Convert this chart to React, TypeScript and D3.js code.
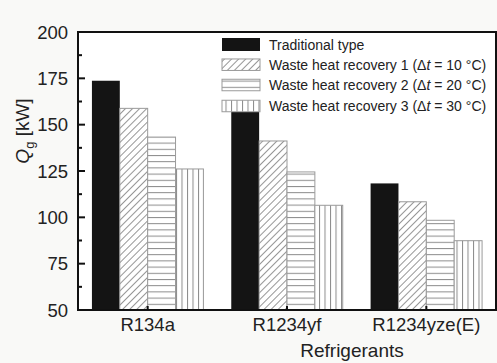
import React from "react";
import * as d3 from "d3";

const categories = ["R134a", "R1234yf", "R1234yze(E)"];
const seriesNames = [
  "Traditional type",
  "Waste heat recovery 1",
  "Waste heat recovery 2",
  "Waste heat recovery 3",
];
const deltaT = ["", "10", "20", "30"];
const traditional = [173.7, 157.0, 118.3];
const recovery1 = [158.8, 141.2, 108.4];
const recovery2 = [143.3, 124.5, 98.4];
const recovery3 = [126.1, 106.5, 87.4];
const yTicks = [50, 75, 100, 125, 150, 175, 200];
const yMinorTicks = [62.5, 87.5, 112.5, 137.5, 162.5, 187.5];

const W = 497;
const H = 363;
const M = { left: 78, right: 496, top: 32, bottom: 310 };
const FONT = "'Liberation Sans', Arial, sans-serif";
const fills = ["#141414", "url(#diag)", "url(#horiz)", "url(#vert)"];

export default function App() {
  const series = [traditional, recovery1, recovery2, recovery3];
  const x0 = d3
    .scaleBand<string>()
    .domain(categories)
    .range([M.left, M.right])
    .paddingInner(0.2)
    .paddingOuter(0.1);
  const x1 = d3
    .scaleBand<number>()
    .domain([0, 1, 2, 3])
    .range([0, x0.bandwidth()]);
  const y = d3.scaleLinear().domain([50, 200]).range([M.bottom, M.top]);

  const legendX = 222;
  const legendSw = 38;
  const legendRows = [44.5, 64.7, 85, 106];

  return (
    <svg
      width={W}
      height={H}
      style={{ position: "absolute", left: 0, top: 0, background: "#f9f9f7" }}
      fontFamily={FONT}
    >
      <defs>
        <pattern id="diag" patternUnits="userSpaceOnUse" width={5} height={5} patternTransform="rotate(45)">
          <rect width={5} height={5} fill="#fff" />
          <line x1={0.5} y1={0} x2={0.5} y2={5} stroke="#8a8a8a" strokeWidth={0.9} />
        </pattern>
        <pattern id="horiz" patternUnits="userSpaceOnUse" width={6} height={6.2}>
          <rect width={6} height={6.2} fill="#fff" />
          <line x1={0} y1={0.5} x2={6} y2={0.5} stroke="#8a8a8a" strokeWidth={1} />
        </pattern>
        <pattern id="vert" patternUnits="userSpaceOnUse" width={5.5} height={6}>
          <rect width={5.5} height={6} fill="#fff" />
          <line x1={0.5} y1={0} x2={0.5} y2={6} stroke="#8a8a8a" strokeWidth={1} />
        </pattern>
      </defs>

      <rect x={M.left} y={M.top} width={M.right - M.left} height={M.bottom - M.top} fill="#fff" />

      {categories.map((c, ci) => (
        <g key={c}>
          {series.map((s, si) => {
            const bx = (x0(c) as number) + (x1(si) as number);
            const by = y(s[ci]);
            return (
              <rect
                key={si}
                x={bx}
                y={by}
                width={x1.bandwidth()}
                height={M.bottom - by}
                fill={fills[si]}
                stroke={si === 0 ? "#141414" : "#9a9a9a"}
                strokeWidth={si === 0 ? 0 : 1}
              />
            );
          })}
        </g>
      ))}

      {/* legend */}
      {seriesNames.map((name, i) => {
        const cy = legendRows[i];
        const h = i === 0 ? 13 : 11.5;
        return (
          <g key={name}>
            <rect
              x={legendX}
              y={cy - h / 2}
              width={legendSw}
              height={h}
              fill={fills[i]}
              stroke={i === 0 ? "#141414" : "#9a9a9a"}
              strokeWidth={i === 0 ? 0 : 1}
            />
            <text x={269} y={cy + 5} fontSize={14} fill="#222">
              {name}
              {i > 0 && (
                <>
                  {" ("}
                  <tspan>Δ</tspan>
                  <tspan fontStyle="italic">t</tspan>
                  {` = ${deltaT[i]} °C)`}
                </>
              )}
            </text>
          </g>
        );
      })}

      {/* axes frame */}
      <rect
        x={M.left}
        y={M.top}
        width={M.right - M.left}
        height={M.bottom - M.top}
        fill="none"
        stroke="#111"
        strokeWidth={2}
      />

      {/* y ticks */}
      {yTicks.map((t) => (
        <g key={t}>
          <line x1={M.left} x2={M.left + 7} y1={y(t)} y2={y(t)} stroke="#111" strokeWidth={2} />
          <text x={68} y={y(t) + 6.5} fontSize={18.5} textAnchor="end" fill="#222">
            {t}
          </text>
        </g>
      ))}
      {yMinorTicks.map((t) => (
        <line key={t} x1={M.left} x2={M.left + 4} y1={y(t)} y2={y(t)} stroke="#111" strokeWidth={2} />
      ))}

      {/* x ticks */}
      {categories.map((c) => {
        const cx = (x0(c) as number) + x0.bandwidth() / 2;
        return (
          <g key={c}>
            <line x1={cx} x2={cx} y1={M.bottom} y2={M.bottom - 4} stroke="#111" strokeWidth={2} />
            <text x={cx} y={331} fontSize={18.5} textAnchor="middle" fill="#222">
              {c}
            </text>
          </g>
        );
      })}

      <text x={352} y={357} fontSize={19} textAnchor="middle" fill="#222">
        Refrigerants
      </text>

      <text transform="translate(29,131) rotate(-90)" fontSize={19} textAnchor="middle" fill="#222">
        <tspan fontStyle="italic">Q</tspan>
        <tspan fontSize={13} dy={5}>g</tspan>
        <tspan dy={-5}> [kW]</tspan>
      </text>
    </svg>
  );
}
